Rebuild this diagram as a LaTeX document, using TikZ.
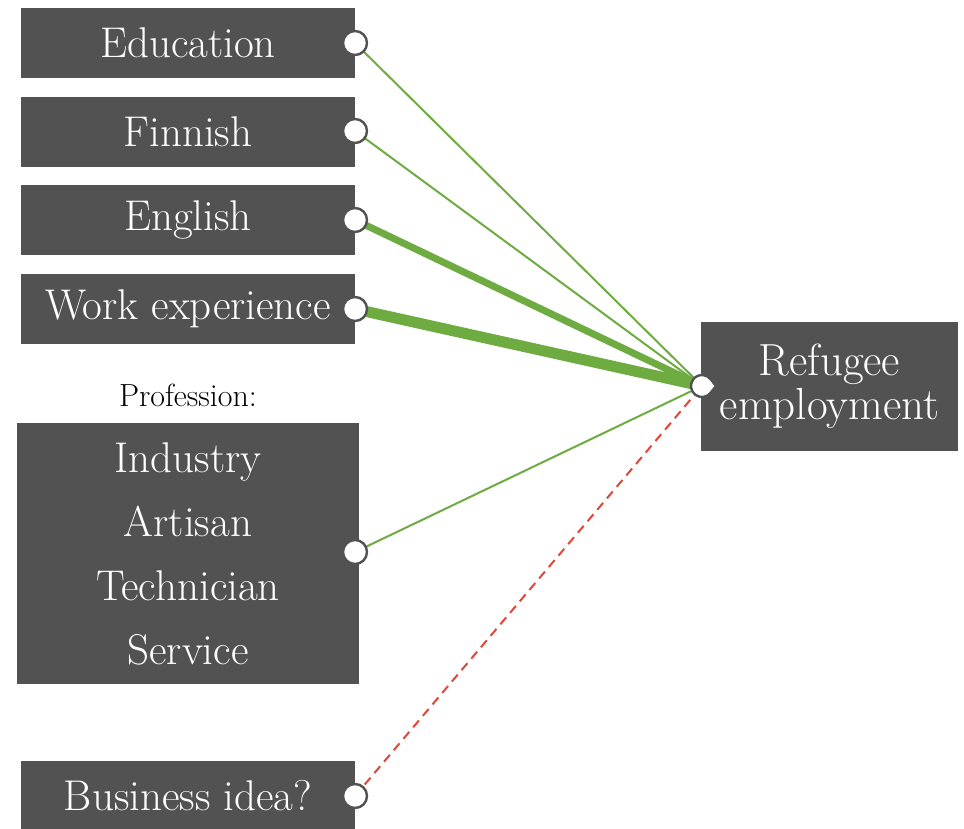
\documentclass[tikz,border=0pt]{standalone}
\usetikzlibrary{backgrounds}
\definecolor{boxgray}{HTML}{525252}
\definecolor{linkgreen}{HTML}{6EAB40}
\definecolor{linkred}{HTML}{E0473A}
\tikzset{
  factor/.style={fill=boxgray, text=white, inner sep=0pt, minimum width=334, minimum height=70,
    font=\fontsize{43}{46}\selectfont, align=center},
  port/.style={circle, draw=boxgray, fill=white, line width=2.4, minimum size=24, inner sep=0pt},
  link/.style={draw=linkgreen, line width=2},
  heavy/.style={draw=linkgreen, line width=7},
  heavier/.style={draw=linkgreen, line width=11},
  doubt/.style={draw=linkred, line width=2, dash pattern=on 9 off 6},
}
\begin{document}
\begin{tikzpicture}[x=1pt, y=-1pt]
\useasboundingbox (0,0) rectangle (964,828);

% factor boxes on the left
\node[factor] (edu) at (188,43) {Education};
\node[factor] (fin) at (188,132) {Finnish};
\node[factor] (eng) at (188,220) {English};
\node[factor] (work) at (188,309) {Work experience};
\node[font=\fontsize{32}{36}\selectfont] (proflabel) at (188,395) {Profession:};
\node[factor, minimum width=342, minimum height=261, font=\fontsize{43}{64}\selectfont]
  (prof) at (188,553.5) {Industry\\Artisan\\Technician\\Service};
\node[factor] (biz) at (188,796) {Business idea?};

% outcome box
\node[factor, minimum width=257, minimum height=129, font=\fontsize{45}{44}\selectfont]
  (out) at (829.5,386.5) {Refugee\\employment};

% ports
\node[port] (pedu) at (355,43) {};
\node[port] (pfin) at (355,131) {};
\node[port] (peng) at (355,220) {};
\node[port] (pwork) at (355,309) {};
\node[port] (pprof) at (355,552) {};
\node[port] (pbiz) at (355,796) {};
\coordinate (tip) at (716,386);
\node[circle, minimum size=24, inner sep=0pt] (pout) at (702,386) {};
\filldraw[draw=boxgray, fill=white, line width=2.4]
  (tip) -- ([shift={(35:11)}]pout.center) arc[start angle=35, end angle=325, radius=11] -- cycle;

% connectors
\begin{pgfonlayer}{background}
\draw[link] (pedu.center) -- (pout.center);
\draw[link] (pfin.center) -- (pout.center);
\draw[heavy] (peng.center) -- (pout.center);
\draw[heavier] (pwork.center) -- (pout.center);
\draw[link] (pprof.center) -- (pout.center);
\draw[doubt] (pbiz.center) -- (pout.center);
\end{pgfonlayer}
\end{tikzpicture}
\end{document}
